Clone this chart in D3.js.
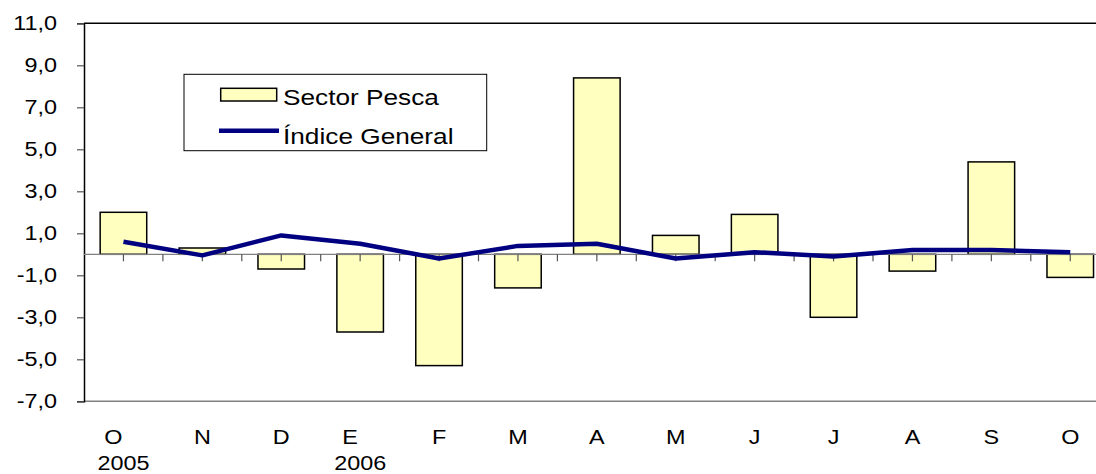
<!DOCTYPE html>
<html>
<head>
<meta charset="utf-8">
<script src="https://cdn.jsdelivr.net/npm/d3@7"></script>
<style>
  html, body { margin: 0; padding: 0; background: #fff; }
  svg { display: block; font-family: "Liberation Sans", Arial, sans-serif; }
</style>
</head>
<body>
<svg id="chart" width="1096" height="474"></svg>
<script>
const months = ["O","N","D","E","F","M","A","M","J","J","A","S","O"];
const years  = ["2005","","","2006","","","","","","","","",""];
const sectorPesca   = [2.0, 0.3, -0.7, -3.7, -5.3, -1.6, 8.4, 0.9, 1.9, -3.0, -0.8, 4.4, -1.1];
const indiceGeneral = [0.6, -0.05, 0.9, 0.5, -0.2, 0.4, 0.5, -0.2, 0.1, -0.1, 0.2, 0.2, 0.1];
const yTicks = [11, 9, 7, 5, 3, 1, -1, -3, -5, -7];
const seriesNames = ["Sector Pesca", "Índice General"];

(function () {
const svg = d3.select("#chart");
const plotLeft = 84, plotTop = 23.3, plotBottom = 401.3;
const step = 78.9;
const plotRight = plotLeft + months.length * step;
const sx = 1.2; // horizontal stretch of the original rendering's text

const idx = months.map((_, i) => i);
const x = d3.scaleBand().domain(idx).range([plotLeft, plotRight]).paddingInner(0.41).paddingOuter(0.205);
const y = d3.scaleLinear().domain([-7, 11]).range([plotBottom, plotTop]);
const cx = i => x(i) + x.bandwidth() / 2;
const fmt = v => d3.format(".1f")(v).replace(".", ",").replace("−", "-");

// plot frame
svg.append("line").attr("x1", plotLeft).attr("x2", plotRight).attr("y1", y(11)).attr("y2", y(11))
  .attr("stroke", "#000").attr("stroke-width", 1.5);
svg.append("line").attr("x1", plotLeft).attr("x2", plotRight).attr("y1", y(-7)).attr("y2", y(-7))
  .attr("stroke", "#808080").attr("stroke-width", 1.5);

// y axis
const yAxis = d3.axisLeft(y).tickValues(yTicks).tickSize(7).tickPadding(20).tickFormat(fmt);
const gy = svg.append("g").attr("transform", `translate(${plotLeft},0)`).call(yAxis);
gy.select(".domain").attr("stroke", "#000").attr("stroke-width", 1.5);
gy.selectAll(".tick line").attr("stroke", "#555").attr("stroke-width", 1.2);
gy.selectAll(".tick text").attr("font-size", "19.5px").attr("fill", "#000")
  .attr("font-family", "'Liberation Sans', Arial, sans-serif")
  .attr("x", 0).attr("transform", `translate(-27,0) scale(${sx},1)`);

// bars
svg.append("g").selectAll("rect").data(sectorPesca).join("rect")
  .attr("x", (d, i) => x(i))
  .attr("width", x.bandwidth())
  .attr("y", d => y(Math.max(0, d)))
  .attr("height", d => Math.abs(y(d) - y(0)))
  .attr("fill", "#FFFFC0").attr("stroke", "#000").attr("stroke-width", 1.5);

// zero line and category ticks
svg.append("line").attr("x1", plotLeft).attr("x2", plotRight).attr("y1", y(0)).attr("y2", y(0))
  .attr("stroke", "#808080").attr("stroke-width", 1.2);
const tickXs = [];
idx.forEach(i => { tickXs.push(cx(i)); tickXs.push(cx(i) + step / 2); });
svg.append("g").selectAll("line").data(tickXs).join("line")
  .attr("x1", d => d).attr("x2", d => d).attr("y1", y(0)).attr("y2", y(0) + 7)
  .attr("stroke", "#555").attr("stroke-width", 1.2);

// line
const line = d3.line().x((d, i) => cx(i)).y(d => y(d));
svg.append("path").datum(indiceGeneral).attr("d", line)
  .attr("fill", "none").attr("stroke", "#000080").attr("stroke-width", 4.5)
  .attr("stroke-linejoin", "round");

// x labels
const gx = svg.append("g").attr("font-size", "19.5px").attr("fill", "#000").attr("text-anchor", "middle");
gx.selectAll("text.m").data(months).join("text").attr("class", "m")
  .attr("transform", (d, i) => `translate(${cx(i) + (years[i] ? -10 : 0)},444) scale(${sx},1)`)
  .text(d => d);
gx.selectAll("text.yr").data(years).join("text").attr("class", "yr")
  .attr("transform", (d, i) => `translate(${cx(i)},470) scale(${sx},1)`)
  .text(d => d);

// legend
const lg = svg.append("g");
lg.append("rect").attr("x", 184).attr("y", 74.3).attr("width", 302.7).attr("height", 76.4)
  .attr("fill", "#fff").attr("stroke", "#000").attr("stroke-width", 1);
lg.append("rect").attr("x", 220.7).attr("y", 88.3).attr("width", 56).attr("height", 12.7)
  .attr("fill", "#FFFFC0").attr("stroke", "#000").attr("stroke-width", 1.5);
lg.append("line").attr("x1", 219).attr("x2", 279).attr("y1", 130.7).attr("y2", 130.7)
  .attr("stroke", "#000080").attr("stroke-width", 4.5);
lg.selectAll("text").data(seriesNames).join("text")
  .attr("transform", (d, i) => `translate(283,${i === 0 ? 104.5 : 143.5}) scale(1.22,1)`)
  .attr("font-size", "21.5px").attr("fill", "#000").text(d => d);
})();
</script>
</body>
</html>
